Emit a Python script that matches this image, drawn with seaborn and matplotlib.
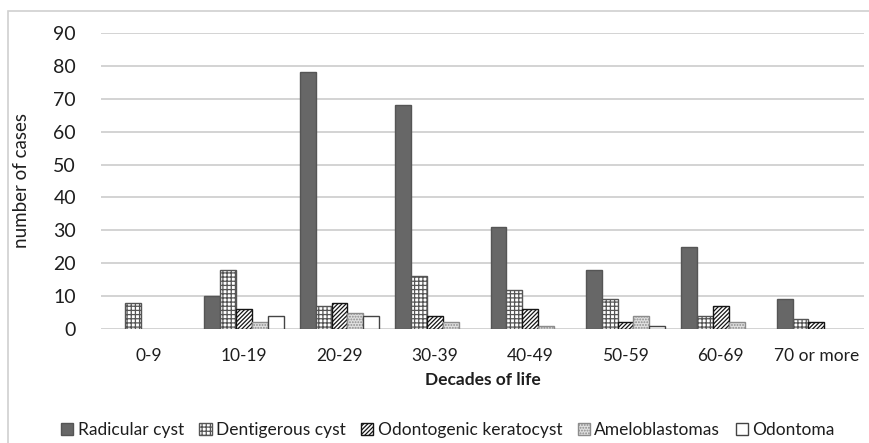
import numpy as np
import pandas as pd
import matplotlib
matplotlib.use("Agg")
import matplotlib.pyplot as plt
from matplotlib.patches import Patch, Rectangle
import seaborn as sns

decades = ["0-9", "10-19", "20-29", "30-39", "40-49", "50-59", "60-69", "70 or more"]
radicular = [0, 10, 78, 68, 31, 18, 25, 9]
dentigerous = [8, 18, 7, 16, 12, 9, 4, 3]
keratocyst = [0, 6, 8, 4, 6, 2, 7, 2]
ameloblastomas = [0, 2, 5, 2, 1, 4, 2, 0]
odontoma = [0, 4, 4, 0, 0, 1, 0, 0]

lesions = ["Radicular cyst", "Dentigerous cyst", "Odontogenic keratocyst",
           "Ameloblastomas", "Odontoma"]
series = [radicular, dentigerous, keratocyst, ameloblastomas, odontoma]

rows = []
for name, vals in zip(lesions, series):
    for d, v in zip(decades, vals):
        rows.append({"Decade": d, "Lesion": name, "Cases": v})
data = pd.DataFrame(rows)

# face, edge, hatch
styles = {
    "Radicular cyst": ("#676767", "#555555", None),
    "Dentigerous cyst": ("white", "#555555", "++++"),
    "Odontogenic keratocyst": ("white", "#151515", "////////"),
    "Ameloblastomas": ("#e0e0e0", "#8c8c8c", "......"),
    "Odontoma": ("white", "#444444", None),
}

sns.set_style("white")
plt.rcParams["font.family"] = ["Lato", "DejaVu Sans"]
plt.rcParams["hatch.linewidth"] = 0.9

fig = plt.figure(figsize=(8.69, 4.43), dpi=100)
ax = fig.add_axes([101 / 869, 1 - 329 / 443, 763 / 869, 296 / 443])

sns.barplot(data=data, x="Decade", y="Cases", hue="Lesion", order=decades,
            hue_order=lesions, palette={k: v[0] for k, v in styles.items()},
            width=0.83, saturation=1, legend=False, ax=ax)

for name, cont in zip(lesions, ax.containers):
    face, edge, hatch = styles[name]
    for bar in cont:
        bar.set_facecolor(face)
        bar.set_edgecolor(edge)
        bar.set_linewidth(1.0)
        if hatch:
            bar.set_hatch(hatch)
        if bar.get_height() == 0:
            bar.set_visible(False)

ax.set_ylim(0, 90)
ax.set_xlim(-0.5, 7.5)
ax.set_yticks(np.arange(0, 91, 10))
ax.yaxis.grid(True, color="#d0d0d0", linewidth=1.3)
ax.set_axisbelow(True)
for s in ax.spines.values():
    s.set_visible(False)
ax.tick_params(axis="y", length=0, pad=18, labelsize=14, labelcolor="#1e1e1e")
ax.tick_params(axis="x", length=0, pad=14, labelsize=12.5, labelcolor="#1e1e1e")

ax.set_ylabel("number of cases", fontsize=13.5, color="#1e1e1e")
ax.yaxis.set_label_coords((22 - 101) / 763, 0.5)
ax.yaxis.label.set_va("center")
ax.set_xlabel("Decades of life", fontsize=12.5, fontweight="bold", color="#1e1e1e")
ax.xaxis.set_label_coords(0.5, -(380 - 329) / 296)
ax.xaxis.label.set_va("center")

handles = [Patch(facecolor=styles[n][0], edgecolor=styles[n][1],
                 hatch=styles[n][2], linewidth=1.0) for n in lesions]
fig.legend(handles, lesions, loc="center", bbox_to_anchor=(448 / 869, 1 - 430 / 443),
           ncol=5, frameon=False, fontsize=12.5, handlelength=0.7, handleheight=0.7,
           handletextpad=0.25, columnspacing=0.9, labelcolor="#1e1e1e")

fig.patches.append(Rectangle((8 / 869, -0.05), 1.0, 1.05 - 11 / 443,
                             transform=fig.transFigure, fill=False,
                             edgecolor="#d0d0d0", linewidth=1.2))

fig.savefig("out.png", dpi=100)
